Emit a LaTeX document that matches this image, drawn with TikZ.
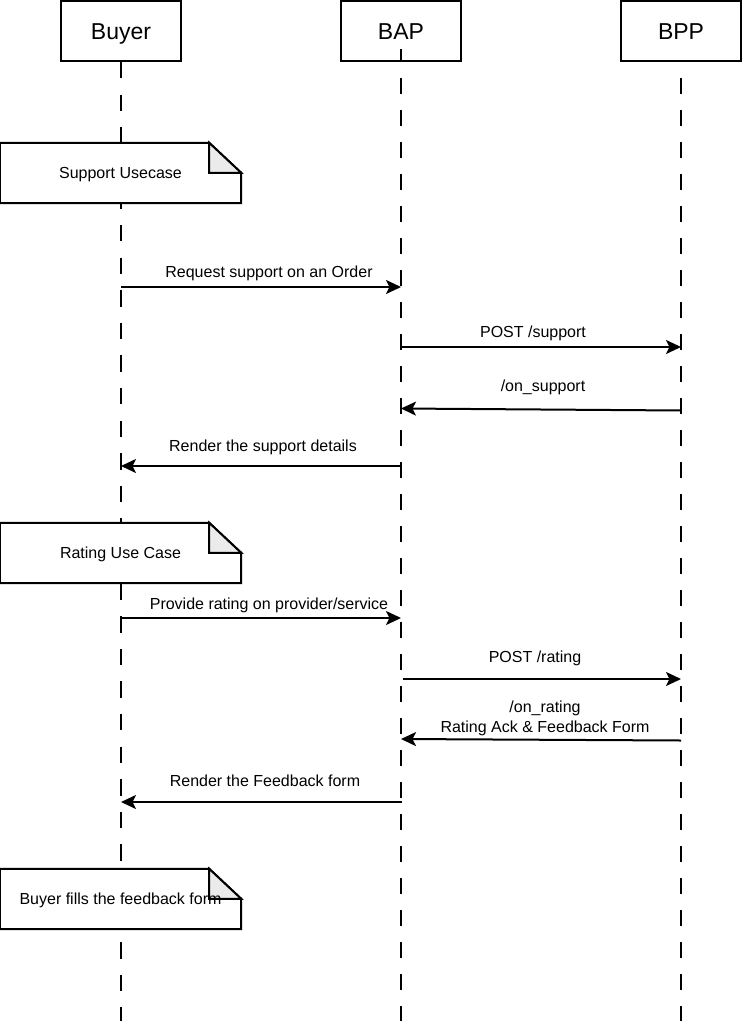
\documentclass[tikz,border=0pt]{standalone}
\usepackage{fontspec}
\setmainfont{Liberation Sans}
\usetikzlibrary{arrows.meta,backgrounds}
\begin{document}
\begin{tikzpicture}[x=1pt,y=-1pt,
  actor/.style={draw, line width=2pt, fill=white, minimum width=120pt, minimum height=60pt,
    inner sep=0pt, text height=16.3pt, text depth=0pt, font=\fontsize{23}{27}\selectfont},
  life/.style={line width=2pt, dash pattern=on 16pt off 16pt},
  msg/.style={line width=2pt, -{Stealth[length=15pt,width=14pt,inset=3.5pt]}},
  lbl/.style={inner sep=0pt, text height=11.5pt, text depth=0pt, font=\fontsize{16}{20}\selectfont},
  lbl2/.style={inner sep=0pt, align=center, font=\fontsize{16}{20}\selectfont},
  notebox/.style={inner sep=0pt, minimum width=241pt, minimum height=60pt,
    text height=11.5pt, text depth=0pt, font=\fontsize{16}{20}\selectfont},
  noteline/.style={line width=2pt, fill=white, line join=miter},
  fold/.style={line width=2pt, fill=black!8, line join=miter}
]
\useasboundingbox (0,0) rectangle (742,1024);

% actors
\node[actor] (buyer) at (121,31) {Buyer};
\node[actor] (bap)   at (401,31) {BAP};
\node[actor] (bpp)   at (681,31) {BPP};

% lifeline ends
\coordinate (bEnd) at (121,1021);
\coordinate (aEnd) at (401,1021);
\coordinate (pEnd) at (681,1021);
\coordinate (aStub) at (401,49);

\draw[line width=2pt] (aStub) -- (bap.south);

% notes (text)
\node[notebox] (n1) at (120.5,173) {Support Usecase};
\node[notebox] (n2) at (120.5,553) {Rating Use Case};
\node[notebox] (n3) at (120.5,899) {Buyer fills the feedback form};

\begin{scope}[on background layer]
  \draw[life, dash pattern=on 16.3pt off 16.3pt] (buyer.south) -- (bEnd);
  \draw[life] ([yshift=-16pt]bap.south) -- (aEnd);
  \draw[life] ([yshift=-16pt]bpp.south) -- (pEnd);
  \foreach \n in {n1,n2,n3}{
    \draw[noteline] (\n.south west) -- (\n.north west) -- ([xshift=-32pt]\n.north east)
      -- ([yshift=-30pt]\n.north east) -- (\n.south east) -- cycle;
    \draw[fold] ([xshift=-32pt]\n.north east) -- ([xshift=-32pt,yshift=-30pt]\n.north east)
      -- ([yshift=-30pt]\n.north east) -- cycle;
  }
\end{scope}

% message endpoints
\coordinate (m1s) at (121,287);   \coordinate (m1e) at (401,287);
\coordinate (m2s) at (401,347);   \coordinate (m2e) at (681,347);
\coordinate (m3s) at (681,410.5); \coordinate (m3e) at (401,408.5);
\coordinate (m4s) at (401,466);   \coordinate (m4e) at (121,466);
\coordinate (m5s) at (121,618);   \coordinate (m5e) at (401,618);
\coordinate (m6s) at (403,679);   \coordinate (m6e) at (681,679);
\coordinate (m7s) at (681,740.5); \coordinate (m7e) at (401,739);
\coordinate (m8s) at (402,802);   \coordinate (m8e) at (121,802);

\draw[msg] (m1s) -- (m1e);
\draw[msg] (m2s) -- (m2e);
\draw[msg] (m3s) -- (m3e);
\draw[msg] (m4s) -- (m4e);
\draw[msg] (m5s) -- (m5e);
\draw[msg] (m6s) -- (m6e);
\draw[msg] (m7s) -- (m7e);
\draw[msg] (m8s) -- (m8e);

% labels
\node[lbl] (l1) at (269,272) {Request support on an Order};
\node[lbl] (l2) at (533,332) {POST /support};
\node[lbl] (l3) at (543,386) {/on\_support};
\node[lbl] (l4) at (263,446) {Render the support details};
\node[lbl] (l5) at (269,604) {Provide rating on provider/service};
\node[lbl] (l6) at (535,657) {POST /rating};
\node[lbl2,anchor=base] (l7) at (545,732) {/on\_rating\\Rating Ack \& Feedback Form};
\node[lbl] (l8) at (265,781) {Render the Feedback form};
\end{tikzpicture}
\end{document}
